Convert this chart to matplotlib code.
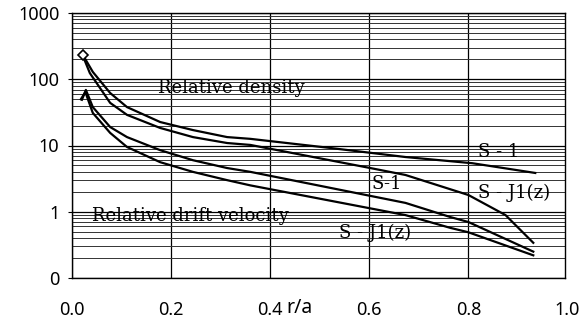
import numpy as np
import matplotlib.pyplot as plt
from matplotlib.ticker import FixedLocator, FixedFormatter, LogLocator, NullFormatter

# values (r/a, relative value)
r_dens_s1 = [0.022, 0.042, 0.077, 0.111, 0.178, 0.244, 0.313, 0.36, 0.52, 0.673, 0.808, 0.935]
dens_s1 = [232, 129, 62, 38, 22.6, 17.1, 13.4, 12.6, 9.2, 6.7, 5.4, 3.85]

r_dens_j1 = [0.022, 0.036, 0.077, 0.111, 0.178, 0.244, 0.313, 0.36, 0.602, 0.673, 0.8, 0.875, 0.931]
dens_j1 = [225, 124, 44, 29, 18.4, 13.4, 10.9, 10.2, 4.57, 3.59, 1.79, 0.89, 0.34]

r_vel_s1 = [0.02, 0.028, 0.042, 0.077, 0.111, 0.178, 0.244, 0.313, 0.36, 0.673, 0.764, 0.8, 0.931]
vel_s1 = [49, 69, 38, 19, 13.4, 8.5, 6.0, 4.57, 4.0, 1.36, 0.83, 0.70, 0.25]

r_vel_j1 = [0.018, 0.027, 0.042, 0.077, 0.111, 0.178, 0.244, 0.313, 0.36, 0.673, 0.764, 0.8, 0.931]
vel_j1 = [50, 64, 31, 15.5, 9.5, 5.6, 4.0, 3.0, 2.5, 0.89, 0.57, 0.49, 0.22]

xticks = [0.0, 0.2, 0.4, 0.6, 0.8, 1.0]
xlabels = ['0.0', '0.2', '0.4', '0.6', '0.8', '1.0']
yticks = [0.1, 1, 10, 100, 1000]
ylabels = ['0', '1', '10', '100', '1000']

fig = plt.figure(figsize=(5.88, 3.25), dpi=100)
ax = fig.add_axes([72/588, 47/325, 493/588, 265/325])

ax.set_yscale('log')
ax.set_xlim(0, 0.995)
ax.set_ylim(0.1, 1000)

for xs, ys in [(r_dens_s1, dens_s1), (r_dens_j1, dens_j1), (r_vel_s1, vel_s1), (r_vel_j1, vel_j1)]:
    ax.plot(xs, ys, color='black', lw=1.6, zorder=3)
ax.plot(r_dens_s1[0], dens_s1[0], marker='D', ms=5, mfc='white', mec='black', mew=1.2, zorder=4)

# grid
ax.set_xticks(xticks[:-1])
ax.set_xticklabels([])
ax.yaxis.set_major_locator(FixedLocator(yticks))
ax.yaxis.set_major_formatter(FixedFormatter(ylabels))
ax.yaxis.set_minor_locator(LogLocator(base=10, subs=np.arange(2, 10)))
ax.yaxis.set_minor_formatter(NullFormatter())
ax.grid(True, which='major', axis='both', color='black', lw=0.9)
ax.grid(True, which='minor', axis='y', color='#333333', lw=0.7)
ax.tick_params(axis='x', length=0)
ax.tick_params(axis='y', which='major', length=3, pad=6)
ax.tick_params(axis='y', which='minor', length=0)
for lab in ax.get_yticklabels():
    lab.set_family('Noto Sans')
    lab.set_fontsize(13)
for s in ax.spines.values():
    s.set_color('black')
    s.set_linewidth(1.0)

# x tick labels sit well below the frame
for xv, xl in zip(xticks, xlabels):
    ax.text(xv, -0.12, xl, transform=ax.get_xaxis_transform(), family='Noto Sans',
            fontsize=13, ha='center', va='center')

serif = 'DejaVu Serif'
ax.text(0.173, 74, 'Relative density', family=serif, fontsize=13, ha='left', va='center', zorder=2)
ax.text(0.04, 0.86, 'Relative drift velocity', family=serif, fontsize=13, ha='left', va='center', zorder=2)
ax.text(0.861, 8.0, 'S - 1', family=serif, fontsize=13, ha='center', va='center', zorder=2)
ax.text(0.893, 1.92, 'S - J1(z)', family=serif, fontsize=13, ha='center', va='center', zorder=2)
ax.text(0.636, 2.62, 'S-1', family=serif, fontsize=13, ha='center', va='center', zorder=2)
ax.text(0.612, 0.48, 'S - J1(z)', family=serif, fontsize=13, ha='center', va='center', zorder=2)

fig.text(300/588, 1 - 308/325, 'r/a', family='Noto Sans', fontsize=14, ha='center', va='center')

fig.savefig('out.png', dpi=100)
